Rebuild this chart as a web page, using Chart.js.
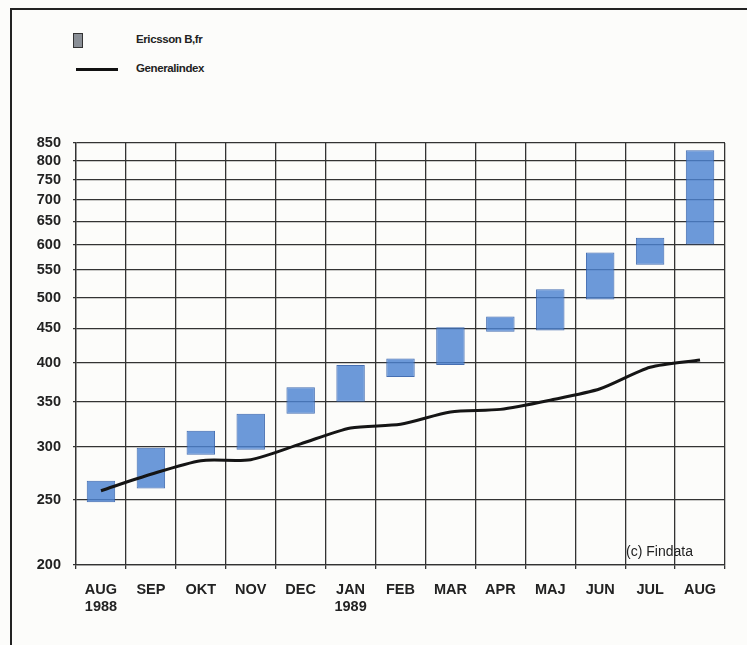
<!DOCTYPE html>
<html>
<head>
<meta charset="utf-8">
<script src="https://cdn.jsdelivr.net/npm/chart.js@4"></script>
<style>
  html, body { margin: 0; padding: 0; background: #fcfcfa; }
  #wrap { position: relative; width: 747px; height: 645px; overflow: hidden; }
  #frame { position: absolute; left: 10px; top: 8px; width: 760px; height: 660px;
           border-top: 2px solid #222; border-left: 2px solid #222; }
  .lg { position: absolute; font-family: "Liberation Sans", Arial, sans-serif;
        font-weight: bold; font-size: 11.5px; letter-spacing: -0.4px; color: #222; }
  #box { position: absolute; left: 73px; top: 33px; width: 8px; height: 13px;
         background: #8a8f96; border: 1px solid #333; }
  #ln { position: absolute; left: 76px; top: 68px; width: 42px; height: 3px; background: #111; }
  canvas { position: absolute; left: 0; top: 0; }
</style>
</head>
<body>
<div id="wrap">
  <div id="frame"></div>
  <div id="box"></div>
  <div class="lg" style="left:136px; top:33px;">Ericsson B,fr</div>
  <div id="ln"></div>
  <div class="lg" style="left:136px; top:62px;">Generalindex</div>
  <canvas id="c" width="747" height="645"></canvas>
</div>
<script>
// months, Aug 1988 - Aug 1989
const months = [['AUG', '1988'], 'SEP', 'OKT', 'NOV', 'DEC', ['JAN', '1989'], 'FEB', 'MAR', 'APR', 'MAJ', 'JUN', 'JUL', 'AUG'];

// Ericsson B low / high per month
const ericssonLow  = [248, 260, 292, 297, 336, 350, 381, 397, 445, 447, 497, 560, 600];
const ericssonHigh = [267, 299, 317, 336, 368, 397, 406, 452, 469, 515, 584, 614, 829];

// Generalindex
const generalIndex = [258, 273, 286, 287, 303, 320, 324, 338, 341, 352, 366, 394, 404];

const yTicks = [200, 250, 300, 350, 400, 450, 500, 550, 600, 650, 700, 750, 800, 850];

const labelFont = { family: '"Liberation Sans", Arial, sans-serif', weight: 'bold', size: 14.5 };

const copyright = {
  id: 'copyright',
  afterDatasetsDraw(chart) {
    const { ctx, chartArea } = chart;
    ctx.save();
    ctx.font = '14px "Liberation Sans", Arial, sans-serif';
    ctx.fillStyle = '#222';
    ctx.textAlign = 'right';
    ctx.textBaseline = 'middle';
    ctx.fillText('(c) Findata', chartArea.right - 32, chartArea.bottom - 13);
    ctx.restore();
  }
};

new Chart(document.getElementById('c'), {
  data: {
    labels: months,
    datasets: [
      {
        type: 'line',
        label: 'Generalindex',
        data: generalIndex,
        borderColor: '#151515',
        borderWidth: 3,
        pointRadius: 0,
        tension: 0.25,
        order: 0
      },
      {
        type: 'bar',
        label: 'Ericsson B,fr',
        data: ericssonLow.map((lo, i) => [lo, ericssonHigh[i]]),
        backgroundColor: 'rgba(76, 130, 210, 0.82)',
        borderColor: 'rgba(50, 95, 170, 0.9)',
        borderWidth: 1,
        borderSkipped: false,
        barPercentage: 0.57,
        categoryPercentage: 1,
        order: 1
      }
    ]
  },
  options: {
    responsive: false,
    animation: false,
    layout: { padding: { left: 0, right: 22, top: 143, bottom: 0 } },
    plugins: { legend: { display: false }, tooltip: { enabled: false } },
    scales: {
      x: {
        grid: { offset: true, color: '#333', lineWidth: 1.3, tickLength: 4 },
        border: { color: '#333', width: 1.3 },
        ticks: { font: labelFont, color: '#222', padding: 12, maxRotation: 0 },
        afterFit: (s) => { s.height = 80; }
      },
      y: {
        type: 'logarithmic',
        min: 200,
        max: 850,
        afterBuildTicks: (s) => { s.ticks = yTicks.map(v => ({ value: v })); },
        grid: { color: '#333', lineWidth: 1.3, tickLength: 3 },
        border: { color: '#333', width: 1.3 },
        ticks: { font: labelFont, color: '#222', padding: 12, callback: (v) => String(v) },
        afterFit: (s) => { s.width = 76; }
      }
    }
  },
  plugins: [copyright]
});
</script>
</body>
</html>
